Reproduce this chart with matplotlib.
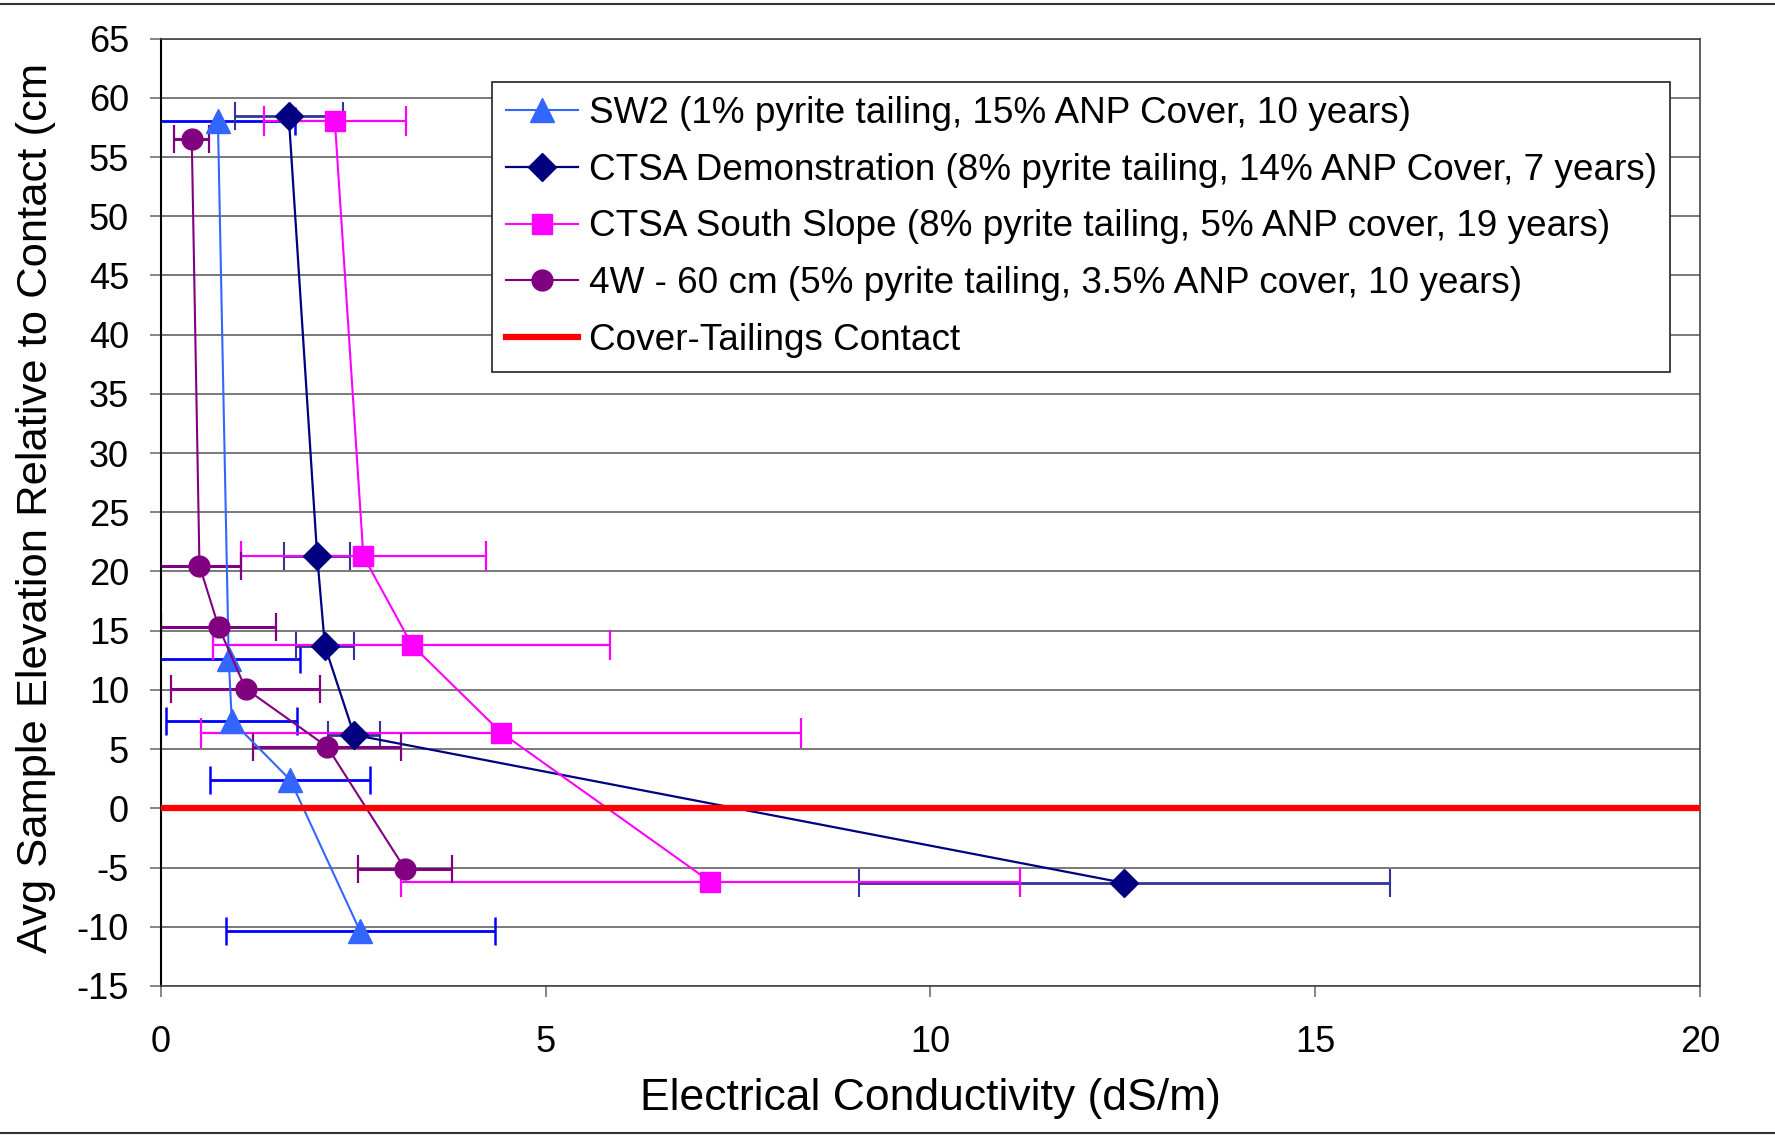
import matplotlib
matplotlib.use("Agg")
import matplotlib.pyplot as plt
from matplotlib.lines import Line2D

plt.rcParams['font.family'] = ['Liberation Sans', 'DejaVu Sans']
plt.rcParams['axes.unicode_minus'] = False

# SW2 (triangles)
sw2_x = [0.74, 0.88, 0.92, 1.68, 2.59]
sw2_y = [58.0, 12.6, 7.4, 2.4, -10.4]
sw2_err = [1.0, 0.93, 0.85, 1.04, 1.75]

# CTSA Demonstration (diamonds)
demo_x = [1.66, 2.03, 2.13, 2.51, 12.52]
demo_y = [58.5, 21.3, 13.7, 6.2, -6.3]
demo_err = [0.7, 0.43, 0.38, 0.34, 3.45]

# CTSA South Slope (squares)
south_x = [2.26, 2.63, 3.26, 4.42, 7.14]
south_y = [58.0, 21.3, 13.8, 6.4, -6.2]
south_err = [0.92, 1.59, 2.58, 3.9, 4.02]

# 4W - 60 cm (circles)
w4_x = [0.40, 0.50, 0.75, 1.10, 2.16, 3.17]
w4_y = [56.5, 20.5, 15.3, 10.1, 5.2, -5.1]
w4_err = [0.23, 0.54, 0.75, 0.97, 0.96, 0.61]

contact_x = [0, 20]
contact_y = [0, 0]

labels = [
    "SW2 (1% pyrite tailing, 15% ANP Cover, 10 years)",
    "CTSA Demonstration (8% pyrite tailing, 14% ANP Cover, 7 years)",
    "CTSA South Slope (8% pyrite tailing, 5% ANP cover, 19 years)",
    "4W - 60 cm (5% pyrite tailing, 3.5% ANP cover, 10 years)",
    "Cover-Tailings Contact",
]

fig = plt.figure(figsize=(17.75, 11.35), dpi=100)
ax = fig.add_axes([0.0907, 0.1313, 0.8670, 0.8347])

# error bars first (behind lines/markers)
ax.errorbar(sw2_x, sw2_y, xerr=sw2_err, fmt='none', ecolor='#0000FF', elinewidth=2.0, capsize=10, capthick=1.8, zorder=2)
ax.errorbar(demo_x, demo_y, xerr=demo_err, fmt='none', ecolor='#333399', elinewidth=2.0, capsize=10, capthick=1.5, zorder=2)
ax.errorbar(south_x, south_y, xerr=south_err, fmt='none', ecolor='#FF00FF', elinewidth=1.6, capsize=11, capthick=1.6, zorder=2)
ax.errorbar(w4_x, w4_y, xerr=w4_err, fmt='none', ecolor='#800080', elinewidth=2.2, capsize=10, capthick=1.6, zorder=2)

ax.plot(sw2_x, sw2_y, color='#3366FF', lw=1.5, marker='^', ms=17, mec='#3366FF', mfc='#3366FF', label=labels[0], zorder=3)
ax.plot(demo_x, demo_y, color='#000080', lw=1.6, marker='D', ms=14, mec='#000080', mfc='#000080', label=labels[1], zorder=3)
ax.plot(south_x, south_y, color='#FF00FF', lw=1.5, marker='s', ms=14, mec='#FF00FF', mfc='#FF00FF', label=labels[2], zorder=3)
ax.plot(w4_x, w4_y, color='#800080', lw=1.5, marker='o', ms=15, mec='#800080', mfc='#800080', label=labels[3], zorder=3)
ax.plot(contact_x, contact_y, color='#FF0000', lw=4.5, label=labels[4], zorder=4)

ax.set_xlim(0, 20)
ax.set_ylim(-15, 65)
ax.set_xticks(range(0, 21, 5))
ax.set_yticks(range(-15, 66, 5))
ax.yaxis.grid(True, color='#555555', lw=1.1)
ax.set_axisbelow(True)

ax.tick_params(axis='both', direction='out', length=8, width=1.1, color='#666666', labelsize=26)
ax.tick_params(axis='y', pad=15)
ax.tick_params(axis='x', pad=20)

for side in ['top', 'right', 'bottom']:
    ax.spines[side].set_color('#444444')
    ax.spines[side].set_linewidth(1.2)
ax.spines['left'].set_color('black')
ax.spines['left'].set_linewidth(1.5)

ax.set_xlabel("Electrical Conductivity (dS/m)", fontsize=32, labelpad=13)
ax.set_ylabel("Avg Sample Elevation Relative to Contact (cm", fontsize=31.3)
ax.yaxis.set_label_coords(-0.068, 0.505)

leg = ax.legend(loc='upper left', bbox_to_anchor=(0.215, 0.954), fontsize=26.6,
                fancybox=False, framealpha=1, edgecolor='#333333',
                handlelength=1.95, handletextpad=0.3, labelspacing=0.59,
                borderpad=0.37, borderaxespad=0, markerscale=1.0)
leg.get_frame().set_linewidth(1.3)

# thin border lines at top and bottom of the picture
fig.add_artist(Line2D([0.0, 1.0], [0.9965, 0.9965], color='#333333', lw=1.5))
fig.add_artist(Line2D([0.0, 1.0], [0.0018, 0.0018], color='#333333', lw=1.5))

fig.savefig("out.png", dpi=100)
